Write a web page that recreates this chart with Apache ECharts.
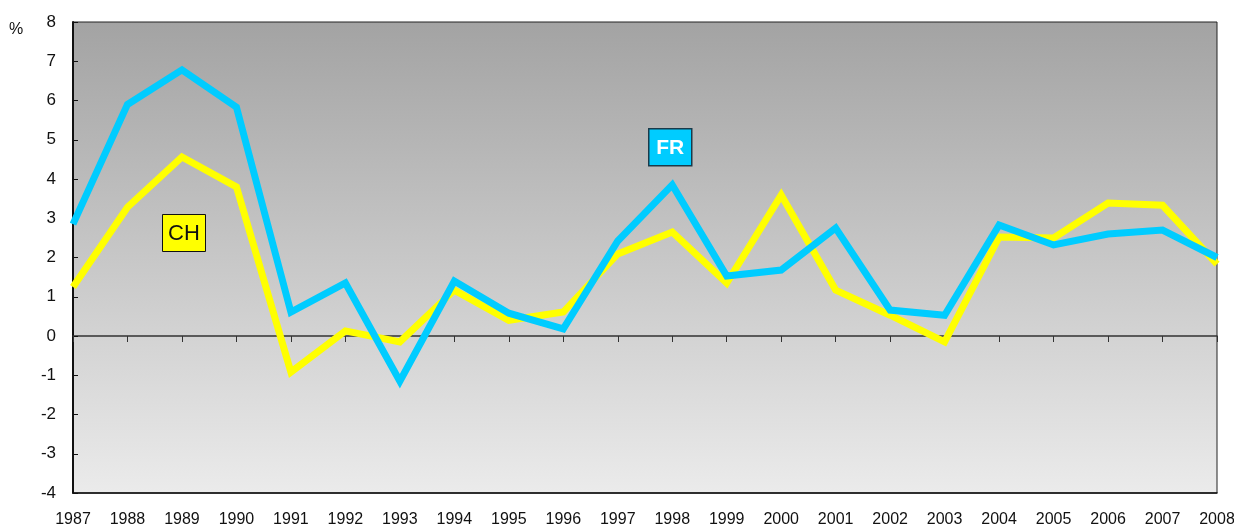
<!DOCTYPE html>
<html>
<head>
<meta charset="utf-8">
<script src="https://cdn.jsdelivr.net/npm/echarts@6/dist/echarts.min.js"></script>
<style>
  html, body { margin: 0; padding: 0; background: #fff; }
  #chart { width: 1234px; height: 530px; }
</style>
</head>
<body>
<div id="chart"></div>
<script>
const years = ["1987", "1988", "1989", "1990", "1991", "1992", "1993", "1994", "1995", "1996", "1997",
  "1998", "1999", "2000", "2001", "2002", "2003", "2004", "2005", "2006", "2007", "2008"];
const chValues = [1.25, 3.28, 4.56, 3.8, -0.92, 0.13, -0.15, 1.17, 0.4, 0.61, 2.09,
  2.65, 1.35, 3.59, 1.17, 0.53, -0.15, 2.52, 2.5, 3.39, 3.33, 1.83];
const frValues = [2.85, 5.9, 6.78, 5.83, 0.61, 1.35, -1.15, 1.4, 0.58, 0.18, 2.42,
  3.85, 1.53, 1.68, 2.75, 0.66, 0.53, 2.83, 2.32, 2.6, 2.7, 2.0];

const font = "'Liberation Sans Narrow', 'Arial Narrow', 'Liberation Sans', sans-serif";

const chart = echarts.init(document.getElementById("chart"));
chart.setOption({
  animation: false,
  grid: {
    left: 73, right: 17, top: 22, bottom: 37,
    outerBoundsMode: "none",
    containLabel: false,
    show: true,
    borderColor: "#222",
    borderWidth: 1,
    backgroundColor: new echarts.graphic.LinearGradient(0, 0, 0, 1, [
      { offset: 0, color: "#a3a3a3" },
      { offset: 1, color: "#ebebeb" }
    ])
  },
  xAxis: [
    {
      type: "category",
      data: years,
      boundaryGap: false,
      position: "bottom",
      axisLine: { onZero: false, lineStyle: { color: "#111", width: 1.5 } },
      axisTick: { show: false },
      axisLabel: { color: "#111", fontFamily: font, fontSize: 16, margin: 19, interval: 0 },
      splitLine: { show: false }
    },
    {
      type: "category",
      data: years,
      boundaryGap: false,
      position: "top",
      axisLine: { onZero: true, lineStyle: { color: "#333", width: 1.5 } },
      axisTick: { show: true, inside: true, length: 6, lineStyle: { color: "#333" } },
      axisLabel: { show: false },
      splitLine: { show: false }
    }
  ],
  yAxis: {
    type: "value",
    min: -4,
    max: 8,
    interval: 1,
    axisLine: { show: true, onZero: false, lineStyle: { color: "#111", width: 2 } },
    axisTick: { show: true, inside: true, length: 5, lineStyle: { color: "#111" } },
    axisLabel: { color: "#111", fontFamily: font, fontSize: 17, margin: 17 },
    splitLine: { show: false }
  },
  series: [
    {
      name: "CH",
      type: "line",
      data: chValues,
      symbol: "none",
      lineStyle: { color: "#ffff00", width: 7, join: "miter" },
      z: 2
    },
    {
      name: "FR",
      type: "line",
      data: frValues,
      symbol: "none",
      lineStyle: { color: "#00ccff", width: 7, join: "miter" },
      z: 3
    }
  ],
  graphic: [
    {
      type: "text", left: 9, top: 22,
      style: { text: "%", font: "16px " + font, fill: "#111" }
    },
    {
      type: "group", left: 162, top: 214,
      children: [
        { type: "rect", shape: { x: 0, y: 0, width: 43, height: 37 },
          style: { fill: "#ffff00", stroke: "#111", lineWidth: 1 } },
        { type: "text", x: 21.5, y: 19,
          style: { text: "CH", font: "22px " + font, fill: "#111", align: "center", verticalAlign: "middle" } }
      ]
    },
    {
      type: "group", left: 648, top: 128,
      children: [
        { type: "rect", shape: { x: 0, y: 0, width: 43, height: 37 },
          style: { fill: "#00ccff", stroke: "#1a3a4a", lineWidth: 1.5 } },
        { type: "text", x: 21.5, y: 19,
          style: { text: "FR", font: "bold 21px " + font, fill: "#fff", align: "center", verticalAlign: "middle" } }
      ]
    }
  ]
});
</script>
</body>
</html>
